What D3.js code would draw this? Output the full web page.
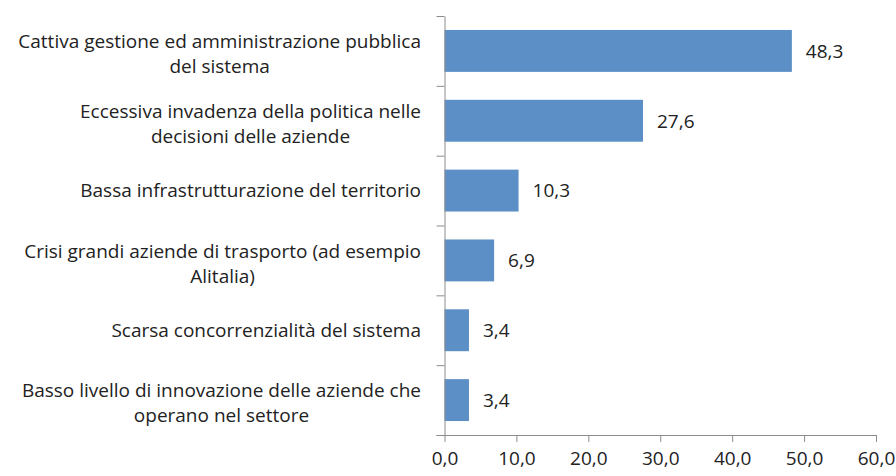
<!DOCTYPE html>
<html>
<head>
<meta charset="utf-8">
<script src="https://cdn.jsdelivr.net/npm/d3@7"></script>
<style>
  body { margin: 0; background: #fff; }
  svg text { font-family: "Open Sans", sans-serif; fill: #222; }
  .axis path, .axis line { stroke: #8c8c8c; }
</style>
</head>
<body>
<div id="chart"></div>
<script>
// categories (lines of each label) and values
var categories = [
  ["Cattiva gestione ed amministrazione pubblica", "del sistema"],
  ["Eccessiva invadenza della politica nelle", "decisioni delle aziende"],
  ["Bassa infrastrutturazione del territorio"],
  ["Crisi grandi aziende di trasporto (ad esempio", "Alitalia)"],
  ["Scarsa concorrenzialità del sistema"],
  ["Basso livello di innovazione delle aziende che", "operano nel settore"]
];
var values = [48.3, 27.6, 10.3, 6.9, 3.4, 3.4];
var xTicks = [0, 10, 20, 30, 40, 50, 60];

var width = 896, height = 476;
var x0 = 444.5, x1 = 876, yTop = 16, yBottom = 435;
var labelRight = 421;
var fontSize = 19;

var it = d3.formatLocale({ decimal: ",", thousands: ".", grouping: [3], currency: ["", "€"] });
var fmt = it.format(".1f");

var svg = d3.select("#chart").append("svg")
  .attr("width", width)
  .attr("height", height);

var xscale = d3.scaleLinear().domain([0, 60]).range([x0, x1]);
var yscale = d3.scaleBand()
  .domain(d3.range(categories.length))
  .range([yTop, yBottom])
  .paddingInner(0.4)
  .paddingOuter(0.2);
// band boundaries for the category ticks
var yedge = d3.scaleLinear().domain([0, categories.length]).range([yTop, yBottom]);

// bars
svg.append("g")
  .selectAll("rect")
  .data(values)
  .enter()
  .append("rect")
  .attr("x", xscale(0))
  .attr("y", function (d, i) { return yscale(i); })
  .attr("width", function (d) { return xscale(d) - xscale(0); })
  .attr("height", yscale.bandwidth())
  .attr("fill", "#5b8fc6");

// value labels
svg.append("g")
  .selectAll("text")
  .data(values)
  .enter()
  .append("text")
  .attr("x", function (d) { return xscale(d) + 14; })
  .attr("y", function (d, i) { return yscale(i) + yscale.bandwidth() / 2; })
  .attr("dy", "0.36em")
  .style("font-size", fontSize + "px")
  .text(function (d) { return fmt(d); });

// y axis with ticks at band edges
svg.append("g")
  .attr("class", "axis")
  .attr("transform", "translate(" + x0 + ",0)")
  .call(d3.axisLeft(yedge).tickValues(d3.range(categories.length + 1)).tickSize(8).tickSizeOuter(0).tickFormat(""));

// x axis
var xg = svg.append("g")
  .attr("class", "axis")
  .attr("transform", "translate(0," + yBottom + ")")
  .call(d3.axisBottom(xscale).tickValues(xTicks).tickSize(7).tickSizeOuter(0).tickFormat(fmt));
xg.select(".domain").attr("d", "M" + (x0 - 8) + ",0.5H" + x1);
xg.selectAll("text")
  .attr("y", 17)
  .style("font-size", fontSize + "px")
  .style("fill", "#222");

// category labels (centered block, right aligned to the axis)
var labels = svg.append("g");
categories.forEach(function (lines, i) {
  var cy = yscale(i) + yscale.bandwidth() / 2;
  var t = labels.append("text")
    .style("font-size", fontSize + "px")
    .attr("text-anchor", "middle");
  var lh = 25;
  var shift = lines.length > 1 ? 3 : 0;
  lines.forEach(function (line, j) {
    t.append("tspan")
      .attr("y", cy + shift + (j - (lines.length - 1) / 2) * lh)
      .attr("dy", "0.36em")
      .text(line);
  });
  var maxW = 0;
  t.selectAll("tspan").each(function () {
    maxW = Math.max(maxW, this.getComputedTextLength());
  });
  t.selectAll("tspan").attr("x", labelRight - maxW / 2);
});
</script>
</body>
</html>
